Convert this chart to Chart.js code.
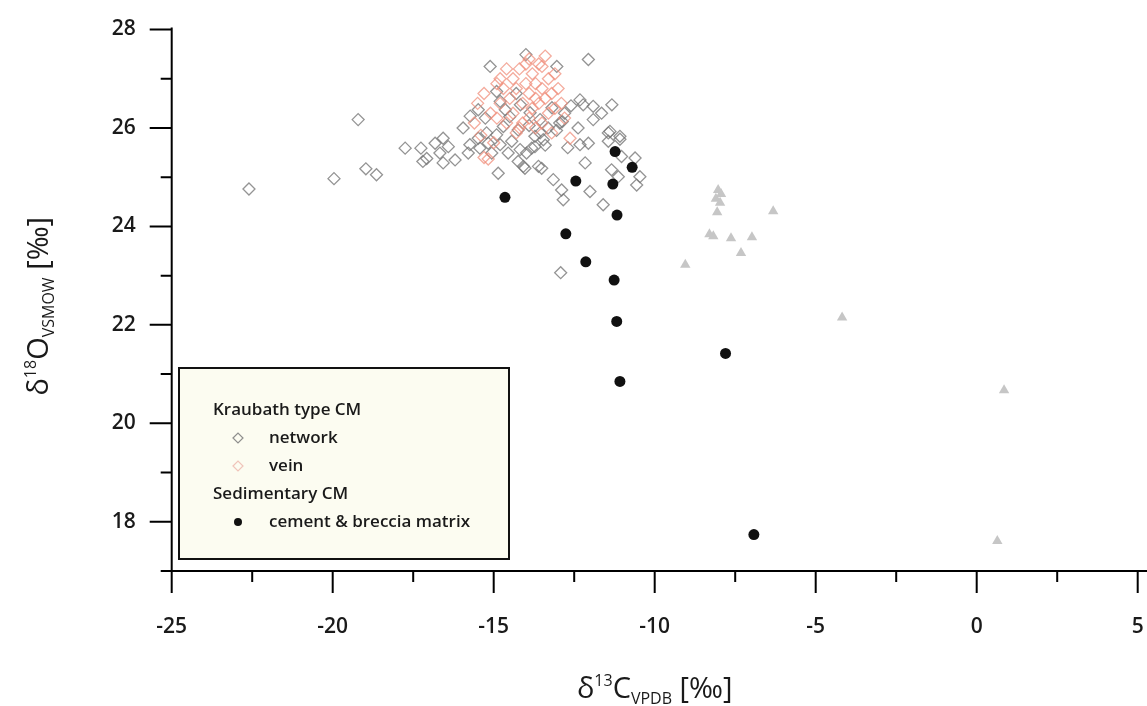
<!DOCTYPE html>
<html>
<head>
<meta charset="utf-8">
<script src="https://cdn.jsdelivr.net/npm/chart.js@4.4.1/dist/chart.umd.min.js"></script>
<style>
  html, body { margin: 0; padding: 0; background: #fff; }
</style>
</head>
<body>
<canvas id="chart" width="1147" height="706"></canvas>
<script>
// [d13C VPDB, d18O VSMOW] pairs, one list per sample group
const networkPoints = [
  [-22.6, 24.76], [-19.96, 24.97], [-19.21, 26.17], [-18.97, 25.17], [-18.64, 25.05], [-17.75, 25.59],
  [-17.26, 25.59], [-17.2, 25.32], [-17.08, 25.38], [-16.82, 25.69], [-16.57, 25.79], [-16.41, 25.62],
  [-16.67, 25.49], [-16.57, 25.29], [-16.2, 25.35], [-15.79, 25.49], [-15.74, 25.66], [-15.48, 25.79],
  [-15.43, 25.59], [-15.22, 25.9], [-15.17, 25.69], [-15.06, 25.49], [-14.91, 25.86], [-14.8, 25.66],
  [-14.7, 26.03], [-14.55, 25.49], [-14.44, 25.73], [-14.24, 25.96], [-14.18, 25.56], [-14.24, 25.32],
  [-13.98, 25.49], [-14.08, 25.22], [-13.82, 25.59], [-13.72, 25.83], [-13.61, 25.22], [-14.86, 25.08],
  [-13.72, 25.62], [-13.46, 25.76], [-13.56, 25.9], [-13.51, 25.18], [-14.03, 25.18], [-13.15, 24.95],
  [-12.89, 24.74], [-12.84, 24.54], [-12.32, 25.66], [-12.06, 25.69], [-12.16, 25.29], [-12.01, 24.71],
  [-11.6, 24.44], [-11.39, 25.93], [-11.44, 25.73], [-11.08, 25.83], [-11.03, 25.42], [-11.34, 25.15],
  [-11.13, 25.01], [-10.61, 25.39], [-10.46, 25.01], [-10.56, 24.84], [-12.92, 23.06],
  [-15.11, 27.25], [-14.0, 27.49], [-13.04, 27.25], [-12.06, 27.39], [-12.32, 26.57], [-12.22, 26.47],
  [-11.91, 26.44], [-11.33, 26.47], [-11.65, 26.3], [-12.6, 26.45], [-12.8, 26.3], [-12.95, 26.1],
  [-13.05, 25.95], [-11.91, 26.17], [-11.44, 25.9], [-11.08, 25.77], [-15.73, 26.24], [-15.26, 26.2],
  [-15.48, 26.37], [-14.8, 26.54], [-14.64, 26.37], [-14.5, 26.23], [-14.17, 26.47], [-13.87, 26.31],
  [-13.56, 26.17], [-13.19, 26.41], [-13.31, 26.0], [-12.87, 26.13], [-14.91, 26.74], [-14.3, 26.7],
  [-13.9, 26.05], [-13.4, 25.65], [-12.7, 25.6], [-12.38, 26.0], [-15.95, 26.0]
];
const veinPoints = [
  [-15.3, 25.4], [-15.17, 25.37], [-15.0, 25.7], [-14.9, 26.2], [-14.8, 26.5], [-14.7, 26.8],
  [-14.6, 26.1], [-14.5, 26.6], [-14.4, 27.0], [-14.4, 26.3], [-14.3, 26.8], [-14.2, 27.2],
  [-14.2, 26.0], [-14.1, 26.5], [-14.0, 26.9], [-14.0, 27.3], [-13.9, 26.2], [-13.9, 26.7],
  [-13.8, 27.1], [-13.8, 26.4], [-13.7, 26.0], [-13.7, 26.9], [-13.6, 27.3], [-13.6, 26.5],
  [-13.5, 26.8], [-13.5, 26.1], [-13.4, 27.46], [-13.4, 26.6], [-13.3, 27.0], [-13.3, 26.3],
  [-13.2, 26.7], [-13.1, 26.4], [-13.1, 27.1], [-13.0, 26.8], [-12.9, 26.5], [-12.8, 26.2],
  [-12.63, 25.79], [-14.6, 27.2], [-14.9, 26.9], [-15.1, 26.3], [-14.3, 25.9], [-13.9, 27.4],
  [-13.2, 25.9], [-14.8, 27.0], [-13.5, 27.25], [-14.1, 26.1], [-13.7, 26.6], [-15.5, 26.5],
  [-15.6, 26.1], [-15.3, 26.7], [-15.4, 25.85]
];
const sedimentaryPoints = [
  [-11.23, 25.52], [-10.7, 25.2], [-12.45, 24.92], [-11.3, 24.86], [-14.65, 24.59], [-11.17, 24.23],
  [-12.76, 23.85], [-12.14, 23.28], [-11.26, 22.91], [-11.18, 22.07], [-11.08, 20.85], [-7.8, 21.42],
  [-6.92, 17.74]
];
// grey triangles, not listed in the key
const otherPoints = [
  [-8.03, 24.74], [-7.94, 24.66], [-8.1, 24.56], [-7.97, 24.48], [-8.06, 24.29], [-8.18, 23.8],
  [-8.3, 23.84], [-7.63, 23.76], [-6.98, 23.78], [-7.32, 23.46], [-6.32, 24.31], [-9.05, 23.22],
  [-4.18, 22.15], [0.85, 20.67], [0.64, 17.61]
];

const xTicks = [-25, -20, -15, -10, -5, 0, 5];
const xMinorTicks = [-22.5, -17.5, -12.5, -7.5, -2.5, 2.5];
const yTicks = [18, 20, 22, 24, 26, 28];
const yMinorTicks = [17, 19, 21, 23, 25, 27];

const FONT = '"Open Sans", "Liberation Sans", sans-serif';
const INK = '#1a1a1a';
const NETWORK_COLOR = 'rgba(118,118,118,0.78)';
const VEIN_COLOR = 'rgba(240,140,120,0.72)';

const toXY = pts => pts.map(([x, y]) => ({ x, y }));

// draws a run of text pieces (with super/subscripts) centred on cx, cy
function drawRichText(ctx, parts, cx, cy) {
  let total = 0;
  parts.forEach(p => {
    ctx.font = `${p.size}px ${FONT}`;
    p.w = ctx.measureText(p.t).width;
    total += p.w;
  });
  let x = cx - total / 2;
  ctx.textBaseline = 'alphabetic';
  ctx.textAlign = 'left';
  parts.forEach(p => {
    ctx.font = `${p.size}px ${FONT}`;
    ctx.fillText(p.t, x, cy + 10 + (p.dy || 0));
    x += p.w;
  });
}

// axis lines with long major and short minor tick marks
const axisMarks = {
  id: 'axisMarks',
  afterDraw(chart) {
    const { ctx, chartArea: a, scales: { x, y } } = chart;
    ctx.save();
    ctx.strokeStyle = '#000';
    ctx.lineWidth = 2;
    ctx.beginPath();
    ctx.moveTo(a.left, a.top - 2);
    ctx.lineTo(a.left, a.bottom);
    ctx.moveTo(a.left, a.bottom);
    ctx.lineTo(chart.width, a.bottom);
    xTicks.forEach(v => {
      const px = x.getPixelForValue(v);
      ctx.moveTo(px, a.bottom);
      ctx.lineTo(px, a.bottom + 22);
    });
    xMinorTicks.forEach(v => {
      const px = x.getPixelForValue(v);
      ctx.moveTo(px, a.bottom);
      ctx.lineTo(px, a.bottom + 11);
    });
    yTicks.forEach(v => {
      const py = y.getPixelForValue(v);
      ctx.moveTo(a.left, py);
      ctx.lineTo(a.left - 22, py);
    });
    yMinorTicks.forEach(v => {
      const py = y.getPixelForValue(v);
      ctx.moveTo(a.left, py);
      ctx.lineTo(a.left - 11, py);
    });
    ctx.stroke();

    // axis titles
    ctx.fillStyle = INK;
    drawRichText(ctx, [
      { t: 'δ', size: 29 }, { t: '13', size: 16, dy: -12 }, { t: 'C', size: 29 },
      { t: 'VPDB', size: 16, dy: 6 }, { t: ' [‰]', size: 29 }
    ], (a.left + a.right) / 2, 688);
    ctx.save();
    ctx.translate(38, (a.top + a.bottom) / 2 + 6);
    ctx.rotate(-Math.PI / 2);
    drawRichText(ctx, [
      { t: 'δ', size: 29 }, { t: '18', size: 16, dy: -12 }, { t: 'O', size: 29 },
      { t: 'VSMOW', size: 16, dy: 6 }, { t: ' [‰]', size: 29 }
    ], 0, 0);
    ctx.restore();
    ctx.restore();
  }
};

// boxed key with group headings
const groupKey = {
  id: 'groupKey',
  afterDraw(chart) {
    const { ctx } = chart;
    const box = { left: 179, top: 368, width: 330, height: 191 };
    ctx.save();
    ctx.fillStyle = '#fcfcf1';
    ctx.fillRect(box.left, box.top, box.width, box.height);
    ctx.strokeStyle = '#111';
    ctx.lineWidth = 2;
    ctx.strokeRect(box.left, box.top, box.width, box.height);

    const rows = [
      { text: 'Kraubath type CM', indent: 34 },
      { text: 'network', indent: 90, marker: { pointStyle: 'rectRot', radius: 5, stroke: 'rgba(130,130,130,0.9)' } },
      { text: 'vein', indent: 90, marker: { pointStyle: 'rectRot', radius: 5, stroke: 'rgba(238,190,180,0.9)' } },
      { text: 'Sedimentary CM', indent: 34 },
      { text: 'cement & breccia matrix', indent: 90, marker: { pointStyle: 'circle', radius: 4, fill: '#111' } }
    ];
    ctx.font = `600 17px ${FONT}`;
    ctx.textBaseline = 'middle';
    ctx.textAlign = 'left';
    rows.forEach((r, i) => {
      const cy = box.top + 42 + i * 28;
      ctx.fillStyle = INK;
      ctx.fillText(r.text, box.left + r.indent, cy);
      if (r.marker) {
        const m = r.marker;
        ctx.fillStyle = m.fill || 'rgba(0,0,0,0)';
        ctx.strokeStyle = m.stroke || m.fill;
        ctx.lineWidth = 1.2;
        Chart.helpers.drawPoint(ctx, {
          pointStyle: m.pointStyle, radius: m.radius, rotation: 0,
          borderWidth: m.stroke ? 1.2 : 0
        }, box.left + 59, cy);
      }
    });
    ctx.restore();
  }
};

const tickFont = { family: FONT, size: 21, weight: '600' };

new Chart(document.getElementById('chart'), {
  type: 'scatter',
  data: {
    datasets: [
      {
        label: 'cement & breccia matrix',
        data: toXY(sedimentaryPoints),
        pointStyle: 'circle',
        pointRadius: 5.5,
        backgroundColor: '#111',
        borderWidth: 0
      },
      {
        label: 'vein',
        data: toXY(veinPoints),
        pointStyle: 'rectRot',
        pointRadius: 6,
        backgroundColor: 'rgba(0,0,0,0)',
        borderColor: VEIN_COLOR,
        borderWidth: 1.3
      },
      {
        label: 'network',
        data: toXY(networkPoints),
        pointStyle: 'rectRot',
        pointRadius: 6,
        backgroundColor: 'rgba(0,0,0,0)',
        borderColor: NETWORK_COLOR,
        borderWidth: 1.3
      },
      {
        label: 'other',
        data: toXY(otherPoints),
        pointStyle: 'triangle',
        pointRadius: 6,
        backgroundColor: '#c6c6c6',
        borderWidth: 0
      }
    ]
  },
  options: {
    responsive: false,
    animation: false,
    devicePixelRatio: 1,
    layout: { padding: { top: 29.5, right: 9.3, bottom: 0, left: 0 } },
    plugins: {
      legend: { display: false },
      tooltip: { enabled: false }
    },
    scales: {
      x: {
        type: 'linear',
        min: -25,
        max: 5,
        afterBuildTicks: s => { s.ticks = xTicks.map(v => ({ value: v })); },
        afterFit: s => {
          s.height = 135;
          // keep the end labels from shrinking the plot area
          s.paddingLeft = 0;
          s.paddingRight = 0;
        },
        border: { display: false },
        grid: { color: 'rgba(0,0,0,0)', drawOnChartArea: false, tickLength: 22 },
        ticks: { padding: 21, font: tickFont, color: INK, maxRotation: 0, autoSkip: false }
      },
      y: {
        type: 'linear',
        min: 17,
        max: 28,
        afterBuildTicks: s => { s.ticks = yTicks.map(v => ({ value: v })); },
        afterFit: s => { s.width = 171.7; },
        border: { display: false },
        grid: { color: 'rgba(0,0,0,0)', drawOnChartArea: false, tickLength: 22 },
        ticks: { padding: 14, font: tickFont, color: INK, autoSkip: false }
      }
    }
  },
  plugins: [axisMarks, groupKey]
});
</script>
</body>
</html>
